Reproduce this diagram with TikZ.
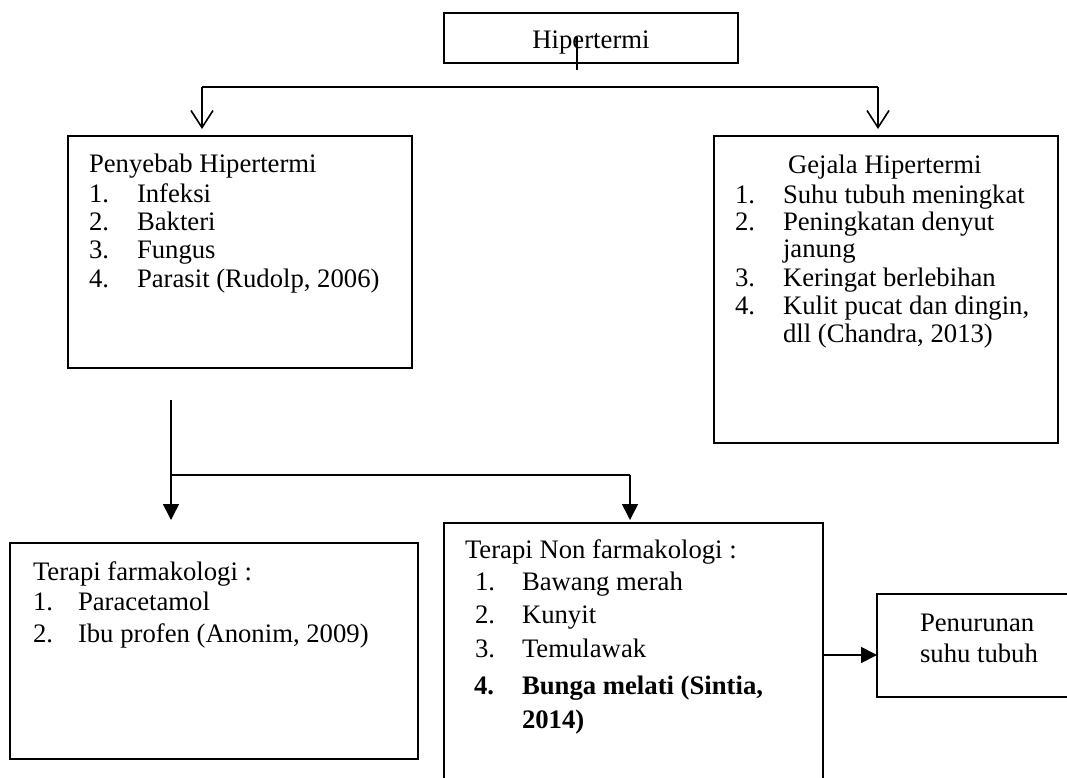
\documentclass[tikz,border=0pt]{standalone}
\usepackage{fontspec}
\setmainfont{Liberation Serif}
\usetikzlibrary{arrows.meta}
\tikzset{
  box/.style={draw=black, line width=1.6pt, inner sep=0pt, outer sep=0pt, anchor=north west},
  hidbox/.style={draw=none, inner sep=0pt, outer sep=0pt, anchor=north west},
  txt/.style={anchor=base west, inner sep=0pt, outer sep=0pt, font=\fontsize{26.7}{32}\selectfont},
  ctxt/.style={anchor=base, inner sep=0pt, outer sep=0pt, font=\fontsize{26.7}{32}\selectfont},
  conn/.style={line width=1.6pt, draw=black},
  openarrow/.style={conn, -{Straight Barb[length=17pt, width=22pt, line width=1.6pt]}},
  fillarrow/.style={conn, -{Triangle[length=16pt, width=16pt]}}
}
\begin{document}
\begin{tikzpicture}[x=1pt, y=-1pt]
\useasboundingbox (0,0) rectangle (1067,777);
\clip (0,0) rectangle (1067,777);
\fill[white] (0,0) rectangle (1067,777);

% boxes
\node[box, minimum width=294pt, minimum height=50pt] (hip) at (444,13) {};
\node[box, minimum width=344pt, minimum height=232pt] (pen) at (68,136) {};
\node[box, minimum width=344pt, minimum height=307pt] (gej) at (714,136) {};
\node[box, minimum width=408pt, minimum height=216pt] (far) at (10,543) {};
\node[hidbox, minimum width=379pt, minimum height=270pt] (non) at (444,523) {};
\draw[conn] (non.south west) -- (non.north west) -- (non.north east) -- (non.south east);
\node[box, minimum width=200pt, minimum height=103pt] (tur) at (877,594) {};

% texts
\node[ctxt] (hiptxt) at (591,48) {Hipertermi};

\node[txt] (p0) at (89,172) {Penyebab Hipertermi};
\node[txt] (p1n) at (89,202) {1.};  \node[txt] (p1) at (137,202) {Infeksi};
\node[txt] (p2n) at (89,230) {2.};  \node[txt] (p2) at (137,230) {Bakteri};
\node[txt] (p3n) at (89,258) {3.};  \node[txt] (p3) at (137,258) {Fungus};
\node[txt] (p4n) at (89,287) {4.};  \node[txt] (p4) at (137,287) {Parasit (Rudolp, 2006)};

\node[txt] (g0) at (788,173) {Gejala Hipertermi};
\node[txt] (g1n) at (735,203) {1.};  \node[txt] (g1) at (783,203) {Suhu tubuh meningkat};
\node[txt] (g2n) at (735,230) {2.};  \node[txt] (g2) at (783,230) {Peningkatan denyut};
\node[txt] (g2b) at (783,257) {janung};
\node[txt] (g3n) at (735,286) {3.};  \node[txt] (g3) at (783,286) {Keringat berlebihan};
\node[txt] (g4n) at (735,314) {4.};  \node[txt] (g4) at (783,314) {Kulit pucat dan dingin,};
\node[txt] (g4b) at (783,342) {dll (Chandra, 2013)};

\node[txt] (f0) at (33,580) {Terapi farmakologi :};
\node[txt] (f1n) at (33,610) {1.};  \node[txt] (f1) at (78,610) {Paracetamol};
\node[txt] (f2n) at (33,642) {2.};  \node[txt] (f2) at (78,642) {Ibu profen (Anonim, 2009)};

\node[txt] (n0) at (465,558) {Terapi Non farmakologi :};
\node[txt] (n1n) at (475,590) {1.};  \node[txt] (n1) at (522,590) {Bawang merah};
\node[txt] (n2n) at (475,623) {2.};  \node[txt] (n2) at (522,623) {Kunyit};
\node[txt] (n3n) at (475,657) {3.};  \node[txt] (n3) at (522,657) {Temulawak};
\node[txt] (n4n) at (474,694) {\bfseries 4.};  \node[txt] (n4) at (522,694) {\bfseries Bunga melati (Sintia,};
\node[txt] (n4b) at (522,728) {\bfseries 2014)};

\node[txt] (t1) at (920,631) {Penurunan};
\node[txt] (t2) at (920,662) {suhu tubuh};

% connectors top
\coordinate (stubtop) at (577,37);
\coordinate (stubbot) at (577,70);
\coordinate (jl) at (202,87);
\coordinate (jr) at (878,87);
\draw[conn] (stubtop) -- (stubbot);
\draw[conn] (jl) -- (jr);
\draw[openarrow, shorten >=7pt] (jl) -- (jl |- pen.north);
\draw[openarrow, shorten >=7pt] (jr) -- (jr |- gej.north);

% connectors bottom
\coordinate (bl) at (171,400);
\coordinate (bj) at (171,475);
\coordinate (br) at (630,475);
\draw[conn] (bl) -- (bj) -- (br);
\draw[fillarrow, shorten >=23pt] (bj) -- (bj |- far.north);
\draw[fillarrow, shorten >=3pt] (br) -- (br |- non.north);

% right arrow
\coordinate (ra) at (823,655);
\draw[fillarrow] (ra) -- (ra -| tur.west);
\end{tikzpicture}
\end{document}
